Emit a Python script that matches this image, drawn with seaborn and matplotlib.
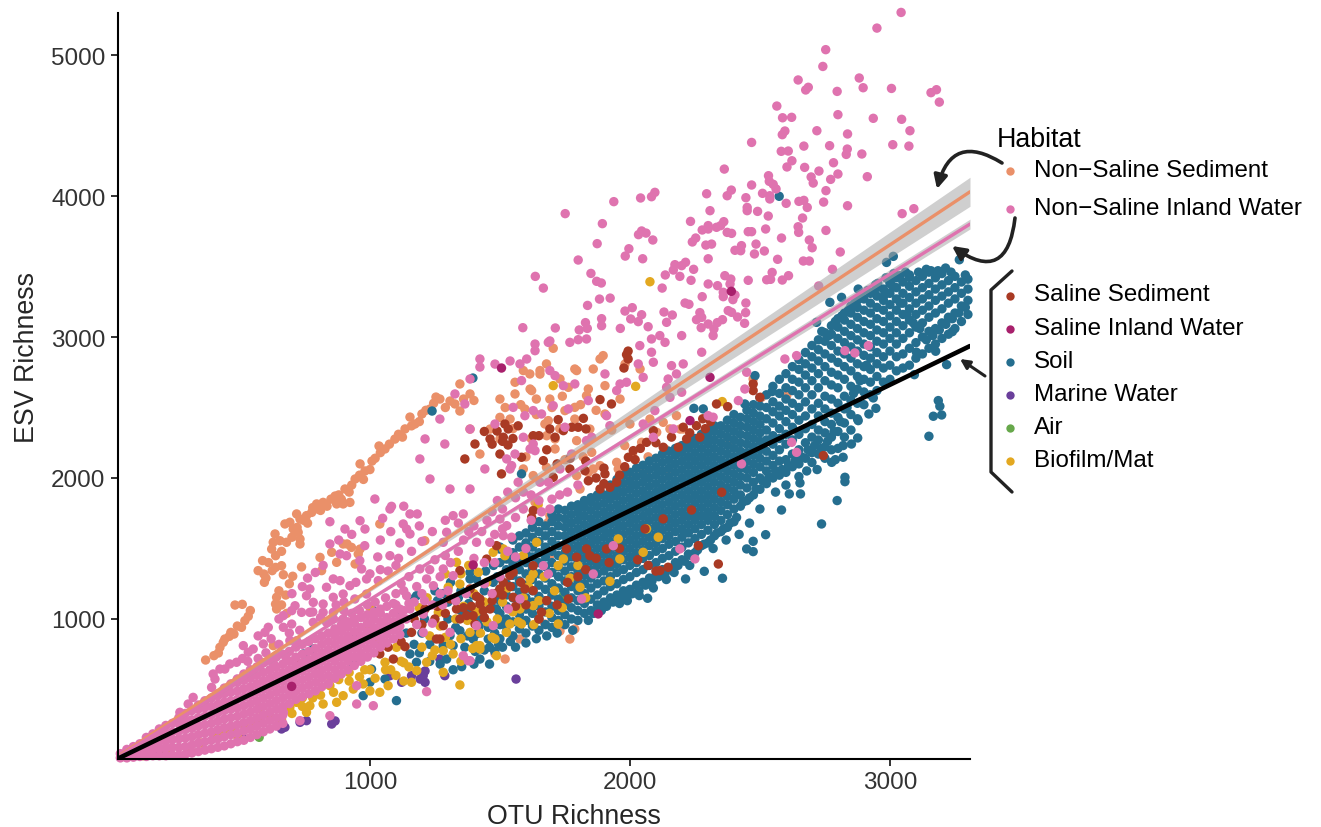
import pandas as pd
import numpy as np
import seaborn as sns
import matplotlib.pyplot as plt
from matplotlib.patches import FancyArrowPatch

sns.set_style('white')
plt.rcParams['font.family'] = ['Liberation Sans', 'DejaVu Sans']

# points (OTU richness, ESV richness)
orange_pts = [(368,709),(417,759),(423,799),(436,835),(442,858),(459,877),(477,893),(506,941),(519,988),(532,1019),
    (481,1099),(509,1104),(628,811),(641,1071),(637,1106),(676,1170),(641,1154),(594,1260),(592,1319),(570,1343),
    (587,1414),(624,1343),(637,1366),(660,1378),(667,1314),(703,1303),(737,1369),(637,1449),(622,1496),(628,1544),
    (654,1555),(679,1544),(635,1603),(731,1567),(731,1532),(724,1615),(705,1638),(673,1674),(692,1686),(731,1709),
    (718,1745),(756,1733),(776,1756),(795,1816),(820,1827),(872,1816),(897,1816),(923,1827),(1038,1674),(808,1437),
    (814,1343),(853,1473),(872,1402),(897,1532),(929,1508),(955,1461),(1211,1555),(800,1780),(866,1872),(904,1922),
    (943,1993),(981,2050),(1008,2120),(1058,2206),(1096,2276),(1135,2348),(1173,2383),(1231,2489),(1269,2560),(1327,2525),
    (1385,2596),(962,2100),(1035,2227),(1154,2432),(1200,2454),(1254,2574),(1308,2546),(1346,2475),(1346,2667),(912,1532),
    (962,1496),(943,1390),(1500,2560),(1558,2596),(1616,2631),(1654,2737),(1692,2560),(1731,2702),(1788,2773),(1885,2844),
    (1981,2808),(2039,2773),(1539,2418),(1596,2489),(1673,2383),(1712,2277),(1788,2418),(1846,2347),(1904,2454),(1962,2560),
    (2000,2383),(2077,2418),(2135,2206),(2193,2347),(1500,2277),(1423,2170),(1385,2347),(1462,2347),(1705,2920),(1897,2868),
    (1679,2809),(1654,2762),(1615,2738),(1590,2762),(1558,2679),(1622,2620),(1795,2762),(1859,2773),(1763,2643),(1840,2631),
    (1904,2655),(1833,2584),(1788,2501),(1750,2478),(1686,2407),(1712,2206),(1795,2265),(1853,2182),(1590,2064),(1628,2017),
    (1679,2076),(1949,2111),(1955,2064),(1885,2088),(1859,2064),(1795,2017),(1808,1922),(1840,2040),(1994,1993),(1987,1958),
    (2045,2253),(2058,2040),(2045,2064),(2128,2395),(2154,2348),(2205,2348),(2179,2442),(2320,2371),(2385,2265),(2474,2702),
    (2506,2572),(2603,2584),(2103,2324),(1692,1733),(1635,1828),(1692,1449),(1686,1686),(1769,858),(1731,915),(1788,929),
    (1673,964),(1520,716),(1481,752),(1577,858),
    (700,1580),(720,1650),(745,1700),(760,1680),(780,1790),(810,1770),(835,1800),(850,1850),(880,1880),(890,1850),
    (920,1900),(930,1950),(960,2020),(975,1990),(1000,2060),(1020,2140),(1040,2180),(1075,2240),(1110,2310),(1125,2290),
    (1160,2370),(1190,2400),(1215,2480),(1245,2530),(1290,2500),(1360,2560),(1400,2550),(660,1480),(610,1400),(600,1290),
    (690,1250),(650,1200),(660,1100),(680,1040),(540,1060),(465,905),(490,950),(400,740),(1500,2430),(1550,2350),
    (1620,2280),(1700,2500),(1740,2580),(1810,2520),(1870,2480),(1930,2340),(1980,2230),(2010,2160),(2070,2150),(2150,2050),
    (1750,2130),(1820,2150),(1680,2300),(1600,2150),(1640,2560),(1580,2520),(1520,2500),(1640,2450),(1730,2350)]

pink_pts = [(3043,5302),(2950,5191),(2753,5038),(2742,4919),(2647,4823),(2686,4771),(2676,4752),(2882,4837),(2897,4768),(2797,4742),
    (3006,4763),(3179,4754),(3158,4733),(3190,4666),(2565,4638),(2587,4555),(2622,4558),(2800,4577),(2936,4551),(3045,4544),
    (2719,4463),(2596,4461),(2586,4435),(2837,4440),(3077,4463),(2468,4380),(2669,4354),(2768,4357),(3011,4364),(3073,4354),
    (2582,4317),(2609,4319),(2836,4333),(2832,4295),(2892,4298),(2623,4250),(2604,4206),(2672,4203),(2783,4236),(2363,4191),
    (2727,4177),(2800,4156),(2913,4137),(2533,4144),(2697,4135),(2536,4104),(2772,4118),(2705,4092),(2468,4078),(2551,4083),
    (2562,4050),(2390,4042),(2754,4038),(2374,4002),(2295,4016),(2510,4019),(2538,4002),(2538,3979),(2096,4026),(2083,3995),
    (2041,3986),(1938,3960),(2446,3988),(2650,3962),(2669,3969),(2601,3948),(2745,3957),(2682,3919),(2837,3931),(3047,3875),
    (3092,3910),(1751,3875),(2308,3896),(2451,3919),(2451,3896),(2491,3891),(2532,3858),(2664,3844),(2233,3820),(1894,3804),
    (2361,3818),(2349,3790),(2333,3778),(2301,3790),(2301,3766),(2278,3759),(2647,3782),(2649,3742),(2522,3766),(2754,3756),
    (2468,3747),(2455,3747),(2374,3742),(2391,3735),(2045,3752),(2062,3737),(2033,3726),(2088,3688),(2583,3702),(2690,3688),
    (2253,3702),(2240,3674),(1874,3662),(2292,3652),(2314,3659),(2485,3659),(2429,3648),(2404,3615),(2426,3612),(1996,3626),
    (2701,3633),(2517,3610),(2479,3589),(2809,3603),(1982,3574),(2049,3555),(2301,3555),(1801,3546),(2568,3551),(2667,3539),
    (2690,3539),(2214,3530),(2173,3513),(2199,3506),(2167,3475),(2245,3480),(2779,3480),(1850,3451),(1636,3430),(2136,3440),
    (2547,3458),(2610,3435),(2365,3435),(2388,3411),(2192,3430),(2526,3406),(2541,3409),(2586,3404),(2455,3402),(2235,3402),
    (1872,3395),(1890,3383),(2301,3376),(2385,3376),(2337,3364),(2726,3362),(1667,3347),(2124,3347),(2359,3317),(2359,3286),
    (2404,3298),(2278,3286),(1924,3276),(1883,3269),(2396,3265),(2446,3241),(1837,3224),(2212,3241),(2227,3232),(2009,3208),
    (1981,3184),(2378,3187),(2391,3175),(2445,3173),(2131,3177),(2163,3156),(2045,3158),(2269,3173),(2276,3139),(2256,3123),
    (2003,3128),(2032,3109),(2414,3142),(1891,3130),(2356,3123),(2336,3102),(1829,3102),(2141,3104),(2441,3097),(2301,3092),
    (1891,3080),(1588,3066),(1713,3064),(1836,3061),(1805,3050),(1963,3061),(2070,3073),(2274,3066),(2323,3057),
    (1686,2962),(1635,2903),(1603,2844),(1577,2809),(1769,2962),(1801,2981),(1833,2986),(2038,2939),(2083,2986),(2115,3010),
    (2135,2962),(2199,3010),(2276,2892),(2320,3010),(2083,2892),(2032,2809),(2090,2821),(2160,2797),(2205,2809),(2179,2738),
    (2147,2702),(2141,2643),(2199,2608),(2154,2572),(2051,2714),(1987,2679),(1962,2667),(1949,2620),(1904,2738),(1788,2667),
    (1692,2762),(1712,2726),(1744,2655),(1596,2442),(1551,2501),(1583,2691),(1628,2478),(1660,2454),(1705,2513),(1763,2490),
    (1840,2549),(1910,2442),(1923,2371),(1750,2360),(1590,2289),(1628,2241),(1635,2194),(1558,2170),(1545,2088),(1526,2135),
    (1833,2265),(1776,2170),(1853,2289),(2090,2289),(2096,2478),(2051,2383),(2167,2348),(2301,2442),(2320,2431),(2449,2750),
    (2442,2631),(2417,2549),(2596,2844),(2641,2868),(2827,2903),(2865,2887),(2917,2939),(2622,2253),(2641,2182),(2429,2100),
    (2192,1497),(2250,1426),(1936,1520),(1859,1319),(1814,1142),(1570,1970),(1686,1970),(1731,2064),(1654,1970),(1692,1780),
    (1526,1662),(1513,1591),(1545,1580),(1667,1378),(1686,1319),(1577,1142),(1532,1071),
    (1423,2844),(1481,2808),(1539,2830),(1635,2950),(1692,2972),(1385,2702),(1423,2787),(1327,2596),(1365,2525),(1269,2418),
    (1212,2277),(1192,2135),(1288,2241),(1385,2347),(1442,2064),(1481,2383),(1539,2064),(1616,2206),(1385,1922),(1308,1922),
    (1231,1993),(1154,1745),(1077,1780),(981,1638),(885,1461),(846,1532),(904,1638),(1019,1851),
    (846,1690),(962,1697),(1049,1714),(1083,1799),(1182,1745),(1128,1674),(1141,1638),(1154,1603),(1115,1539),(1077,1449),
    (910,1449),(968,1355),(961,1414),(987,1284),(1032,1272),(946,1260),(923,1236),(885,1272),(859,1284),(833,1225),
    (769,1213),(756,1165),(782,1118),(820,1106),(859,1154),(897,1177),(942,1142),(987,1177),(712,1094),(699,1059),
    (737,1047),(769,1047),(820,1047),(859,1047),(667,1024),(782,976),(833,976),(897,1000),(699,964),(667,941),
    (609,941),(596,905),(513,811),(532,764),(551,787),(590,823),(487,693),(461,681),(423,645),(397,610),
    (404,574),(442,645),(391,515),(320,444),(301,397),(269,338),(692,846),(718,846),(641,740),(679,716),
    (949,397),(1013,385),(1218,485),(1385,704),(667,338),(731,279),(846,314),(949,527),(1282,1355),(1320,1307),
    (1410,1544),(1359,1745),(1320,1733),(1295,1615),(1282,1544),(1244,1236),(1192,1355),(1218,1284),(1141,1165),(1154,1071),
    (1205,905),(1308,905),(1500,1709),(1461,1544),(1474,953),(1410,953),(1359,740),(1378,704),(1205,1035),
    (1120,1250),(1150,1300),(1180,1230),(1200,1180),(1230,1350),(1250,1420),(1270,1300),(1290,1450),(1310,1400),(1340,1480),
    (1360,1560),(1380,1620),(1400,1660),(1430,1620),(1450,1700),(1470,1760),(1490,1840),(1510,1780),(1530,1900),(1560,1860),
    (1590,1900),(1620,1880),(1650,1840),(1100,1100),(1130,1060),(1170,1120),(1210,1130),(1240,1100),(1270,1180),(1300,1200),
    (1130,1200),(1100,1180),(1060,1150),(1020,1120),(990,1100),(960,1060),(930,1040),(900,1060),(870,1100),(1070,1340),
    (1100,1380),(1040,1350),(1000,1320),(1030,1440),(1110,1430),(1160,1480),(1200,1550),(1240,1620),(1290,1700),(1340,1680),
    (1190,1660),(1130,1800),(1080,1620),(1040,1560),(980,1520),(930,1600),(880,1560),(790,1330),(820,1380),(760,1290),
    (740,1230),(700,1180),(650,1000),(620,860),(570,880),(530,700),(510,720),(570,720),(600,760),(650,820),
    (690,900),(730,920),(780,1050),(810,1010),(860,1000),(900,1120),(630,680),(1280,1100),(1330,1130),(1370,1180),
    (1440,1250),(1470,1180),(1440,1400),(1400,1430),(1480,1600),(1530,1480),(1560,1440),(1600,1500),(1510,1640),(1480,1400),
    (1140,1000),(1180,960),(1240,970),(1150,1110),(1500,1300),(1560,1720),(1590,1780),(1620,1700),(1660,1760),(1700,1850),
    (1730,1880),(1760,1900),(1800,1950)]

# the solid part of the pink cloud, read as (x, [y values]) strips
pink_strips = [(40,[15,45]),(65,[15,45,75]),(90,[20,55,95]),(115,[25,70,115]),(140,[25,70,115,160]),
    (165,[30,80,130,185]),(190,[30,80,130,180,220]),(215,[30,85,135,190,245]),(240,[35,90,145,200,260]),
    (265,[35,90,150,205,260,300]),(290,[40,95,155,215,275,330]),(315,[50,105,165,225,285,350]),
    (340,[60,120,180,240,300,360,390]),(365,[70,130,190,250,310,370,420]),(390,[80,140,200,260,320,380,440]),
    (415,[90,150,215,275,335,395,455,470]),(440,[100,165,230,290,350,410,470,510]),(465,[115,180,240,300,360,420,480,540]),
    (490,[130,190,250,310,370,430,490,550,575]),(515,[140,205,265,325,385,445,505,565,610]),
    (540,[160,220,280,340,400,460,520,580,640]),(565,[180,240,300,360,420,480,540,600,660]),
    (590,[200,260,320,380,440,500,560,620,690]),(615,[220,280,340,400,460,520,580,640,710]),
    (640,[240,300,360,420,480,540,600,660,730]),(665,[260,320,380,440,500,560,620,680,750]),
    (690,[400,460,520,580,640,700,770]),(715,[430,490,550,610,670,730,800]),(740,[450,510,570,630,690,750,820]),
    (765,[470,530,590,650,710,770,840]),(790,[490,550,610,670,730,790,860]),(815,[520,580,640,700,760,820,880]),
    (840,[540,600,660,720,780,840,900]),(865,[580,640,700,760,820,880,930]),(890,[610,670,730,790,850,910,960]),
    (915,[640,700,760,820,880,940,980]),(940,[670,730,790,850,910,970,1000]),(965,[700,760,820,880,940,1010]),
    (990,[730,790,850,910,970,1030]),(1015,[760,820,880,940,1000,1050]),(1040,[800,860,920,980,1040,1070]),
    (1065,[830,890,950,1010,1090]),(1090,[860,920,980,1040,1110]),(1115,[890,950,1010,1070])]

brown_pts = [(1987,2875),(1977,2780),(1885,2556),(1929,2525),(1724,2414),(1821,2423),(1776,2360),(1801,2360),(1831,2348),(1744,2336),
    (1712,2289),(1628,2300),(1692,2348),(1532,2348),(1513,2289),(1583,2147),(1667,2123),(1506,2029),(1705,2005),(1769,2064),
    (1827,2052),(1904,2029),(1949,1970),(1885,1922),(1923,1934),(1994,2147),(2013,2194),(2064,2253),(2090,2336),(2128,2218),
    (2186,2218),(2205,2360),(2256,2371),(2269,2289),(2218,2277),(2333,2525),(2376,2506),(2474,2667),(2474,2620),(2500,2572),
    (2353,1899),(2237,1773),(2263,1520),(2340,1390),(2115,1343),(2147,1367),(1833,1497),(1846,1449),(1910,1497),(1795,1438),
    (1756,1497),(1763,1142),(1628,1378),(1551,1331),(1596,1213),(1628,1201),(1660,1048),(1551,1154),(2128,1710),(2058,1639),
    (2744,2159),(1538,1308),(1513,1260),(1622,1721),(1628,1769),(1462,2277),(1489,2333),(1519,2383),(1404,2241),(1500,2170),
    (1531,2234),(1365,2135),(1993,2900),(1993,2844),(1308,1142),(1385,1213),(1423,1106),(1404,964),(1462,1071),(1500,1213),
    (1346,1000),(1269,858),(1250,1000),(1212,1071),(1449,1425),(1372,1024),(1423,1142),(1436,1059),(1282,953),(1333,1071),
    (1346,1343),(1397,1024),(1160,905),(1135,804),(1090,716),(1038,752),(1256,858),(1487,1520),(731,681),
    (1330,1130),(1360,1080),(1390,1090),(1410,1160),(1440,1010),(1470,1130),(1480,1180),(1510,1170),(1540,1230),(1560,1090),
    (1580,1260),(1600,1100),(1650,1000),(1680,1130),(1720,1100),(1760,1260),(1800,1300),(1830,1350),(1870,1430),(1920,1400),
    (1960,1500),(2030,1420),(2070,1380),(2100,1340),(1290,1040),(1260,1090),(1200,960),(1170,1000),(1120,840),(1070,800),
    (1840,1980),(1870,2000),(1900,1960),(1960,2020),(1980,2080),(2020,2130),(2040,2210),(2100,2250),(2160,2290),(2230,2320),
    (2290,2350),(2310,2400),(2280,2420),(1900,2070),(1830,2120),(1770,2140),(1720,2100),(1680,2200),(1650,2300),(1570,2370),
    (1440,2330),(1470,2240),(1510,2260),(1550,2280)]

magenta_pts = [(1506,2780),(2308,2714),(2231,2407),(1878,1036),(2390,3324),(1397,1383),(699,522)]

purple_pts = [(756,279),(853,255),(673,232),(731,267),(1122,551),(1212,551),(1205,598),(1160,598),(1077,598),(1288,598),
    (660,220),(513,149),(1562,574),(1193,574),(1212,631),(1269,716),(866,277),(192,43)]

air_pts = [(574,161),(1744,1166)]

yellow_pts = [(1000,1083),(994,929),(1026,846),(1102,799),(1058,693),(1038,480),(1070,527),(1160,551),(1282,622),(1320,752),
    (1410,811),(1487,740),(1525,905),(1333,1402),(1417,1331),(1449,1260),(1474,1473),(1301,1225),(1263,1047),(1346,1248),
    (1180,634),(1218,693),(1385,905),(1423,811),(1282,775),(974,539),(936,503),(897,456),(846,527),(872,409),
    (820,397),(769,385),(718,409),(692,373),(756,338),(577,362),(423,208),(449,208),(551,243),(103,43),
    (64,54),(128,31),(314,54),(1519,1449),(1705,2655),(2022,2650),(2355,2542),(1647,1811),(1744,1426),(1724,1379),
    (1808,1225),(1923,1267),(2109,1580),(2064,1639),(1955,1568),(1961,1426),(2051,1473),(1628,1319),(1628,1095),(1583,965),
    (1724,965),(1641,1544),(1513,1497),(1590,1449),(1538,964),(1577,1071),(1481,858),(1423,787),(1346,532),(1616,1284),
    (2077,3392),(740,440),(790,470),(860,480),(920,560),(1000,640),(1080,640),(1130,690),(1240,740),(1350,700),
    (1200,800),(1230,880),(1250,780),(1270,950),(1290,870),(1310,820),(1330,1000),(1350,860),(1360,1090),(1375,990),
    (1395,790),(1410,1050),(1425,900),(1440,1120),(1450,980),(1470,870),(1490,1000),(1510,1120),(1530,1220),(1550,1050),
    (1570,980),(1590,1150),(1610,1230),(1630,960),(1650,1130),(1670,1300),(1690,1040),(1710,1200),(1740,1080),(1770,1290),
    (1800,1380),(1830,1150),(1120,700),(1150,660),(1100,600),(1130,560),(1060,640),(1020,580),(980,640),(1000,490),
    (960,590),(920,620),(880,570),(850,580),(810,460),(780,440),(740,380),(700,330),(660,290),(620,300),
    (580,280),(520,230),(480,200),(490,170),(400,180),(350,120),(300,80),(220,60),(1400,1180),(1380,1380),
    (1350,1320),(1290,1320),(1220,1150),(1190,1080)]

soil_pts = [(3150,2296),(3167,2438),(3199,2447),(3186,2549),(3192,2509),(2737,1674),(2797,1840),(2583,1773),(2522,1598),(2827,2005),
    (2827,1974),(2613,1887),(2656,1887),(2474,1551),(2449,1497),(2474,1478),(2356,1289),(2286,1338),(2214,1284),(2068,1147),
    (2036,1166),(2003,1178),(1583,2029),(2282,2490),(2246,2494),(2547,2613),(2481,2726),(2442,2525),(2936,2568),(2946,2494),
    (2919,2454),(2878,2407),(2876,2284),(2852,2241),(2820,2230),(2820,2147),(2776,2111),(2654,1965),(3094,2733),(3218,2804),
    (3176,2899),(3102,2892),(3240,3038),(2574,3998),(2987,3529),(3013,3572),(2769,3246),(2814,3281),(2878,3340),(2936,3317),
    (2953,3380),(3000,3399),(3158,3470),(3214,3489),(3267,3548),(3038,3435),(3074,3423),(2718,3104),(1239,2475),(1396,2709),
    (782,787),(744,752),(936,681),(1102,421),(1013,1059),(942,905),(1179,1165),(1167,1142),(1006,645),(974,456),
    (1000,551),(1058,574),(1154,752),(1179,693),(1282,811),(1295,716),(1353,662),(1423,716),(1455,858),(1385,1047),
    (1385,1331),(1410,1284),(1487,1071),(1526,1425),(1500,1496),(1385,1284),(1320,811),(1308,882),(1346,917),(1410,894),
    (1455,941),(1513,964),(1500,1142),(1397,858),(1474,1260),
    (1200,900),(1230,820),(1260,1130),(1280,1180),(1300,1000),(1310,1260),(1330,940),(1340,1150),(1350,1200),(1365,800),
    (1375,880),(1380,1110),(1395,1170),(1405,770),(1420,950),(1430,1010),(1440,1200),(1445,1340),(1460,800),(1465,1100),
    (1475,1380),(1480,900),(1490,1300),(1495,820),(1440,780),(1400,1000),(1350,1060),(1300,1120),(1250,1200),(1210,1000),
    (1120,1050),(1140,900),(1170,820),(1190,760),(1230,700),(1270,680),(1320,640),(1360,720),(1400,680),(1460,680),
    (1480,770),(1510,800),(1540,840),(1560,800),(1600,830),(1640,860),(1680,880),(1720,900),(1780,920),(1840,990),
    (1890,1060),(1960,1110),(1990,1130),(2090,1220),(2140,1280),(2170,1330),(2230,1380),(2320,1500),(2370,1560),(2420,1600),
    (2460,1680),(2500,1780),(2560,1900),(2600,1950),(2680,2050),(2720,2060),(2790,2130),
    (2738,3040),(2765,3010),(2790,3110),(2815,3150),(2840,3190),(2865,3240),(2890,3290),(2915,3330),(2945,3370),(2985,3420),
    (3015,3450),(3060,3460),(3110,3460),(3140,3480),(3185,3470),(3235,3460),(3290,3440),(2980,3300),(3010,3360),(3040,3240),
    (3065,3160),(3090,3100),(3115,3060),(3140,2980),(3165,3010),(3190,3050),(3215,3090),(3240,3130),(3265,3170),(3290,3210),
    (2910,2800),(2885,2690),(2860,2600),(2835,2500),(2810,2400),(2785,2330),(2760,2260),(2735,2210),(2710,2230),(2685,2200),
    (2660,2150),(2635,2120),(2610,2090),(2585,2060),(2560,2050),(2535,2010),(2510,1980),(2485,1920),(2460,1860),(2435,1830),
    (2410,1720),(2385,1680),(2360,1640),(2335,1610),(2310,1560),(2285,1530),(2260,1490),(2235,1450),(2210,1410),(2185,1380),
    (2160,1350),(2135,1320),(2110,1300),(2085,1270),(2060,1240),(2035,1200),(2010,1180),(1985,1160),(1960,1150),(1935,1120),
    (1910,1090),(1885,1070),(1860,1040)]

soil_strips = [(1500,[860,960,1040,1130,1210,1290,1400,1510]),(1525,[910,1000,1090,1170,1250,1350,1450]),
    (1550,[880,980,1060,1150,1230,1310,1390,1470,1560]),(1575,[930,1030,1110,1190,1270,1350,1430,1510,1590]),
    (1600,[900,990,1070,1150,1240,1320,1400,1470,1540,1610]),(1625,[950,1040,1120,1200,1280,1360,1440,1510,1580,1650]),
    (1650,[920,1000,1090,1160,1240,1320,1400,1470,1550,1620,1690]),(1675,[960,1050,1130,1210,1290,1370,1440,1510,1590,1660]),
    (1700,[940,1010,1090,1170,1250,1330,1400,1480,1550,1620,1690,1740]),(1725,[990,1060,1140,1220,1300,1370,1450,1520,1590,1660,1720,1780]),
    (1750,[960,1030,1110,1190,1270,1340,1410,1470,1530,1590,1650,1710,1770]),(1775,[1000,1080,1150,1230,1300,1370,1440,1500,1560,1620,1680,1740,1800]),
    (1800,[990,1060,1130,1200,1270,1340,1400,1460,1520,1580,1640,1700,1760,1810]),(1825,[1040,1110,1180,1250,1310,1370,1430,1490,1550,1610,1670,1730,1790,1840]),
    (1850,[1060,1140,1220,1290,1350,1410,1470,1530,1590,1650,1710,1770,1830,1860]),(1875,[1100,1170,1250,1320,1380,1440,1500,1560,1620,1680,1740,1800,1860,1880]),
    (1900,[1120,1200,1270,1340,1400,1460,1520,1580,1640,1700,1760,1820,1880]),(1925,[1150,1230,1300,1370,1430,1490,1550,1610,1670,1730,1790,1850,1900,1950]),
    (1950,[1170,1250,1330,1390,1450,1510,1570,1630,1690,1750,1810,1870,1930,1990]),(1975,[1200,1280,1350,1420,1480,1540,1600,1660,1720,1780,1840,1900,1960,2020]),
    (2000,[1210,1300,1380,1440,1500,1560,1620,1680,1740,1800,1860,1920,1980,2040]),(2025,[1240,1330,1400,1470,1530,1590,1650,1710,1770,1830,1890,1950,2010,2070]),
    (2050,[1260,1350,1430,1490,1550,1610,1670,1730,1790,1850,1910,1970,2030,2090]),(2075,[1290,1380,1450,1520,1580,1640,1700,1760,1820,1880,1940,2000,2060,2120]),
    (2100,[1310,1400,1480,1540,1600,1660,1720,1780,1840,1900,1960,2020,2080,2140]),(2125,[1350,1430,1500,1570,1630,1690,1750,1810,1870,1930,1990,2050,2110,2170]),
    (2150,[1360,1450,1530,1590,1650,1710,1770,1830,1890,1950,2010,2070,2130,2190]),(2175,[1400,1480,1550,1620,1680,1740,1800,1860,1920,1980,2040,2100,2160,2210]),
    (2200,[1420,1510,1580,1640,1700,1760,1820,1880,1940,2000,2060,2120,2180,2230]),(2225,[1460,1540,1610,1670,1730,1790,1850,1910,1970,2030,2090,2150,2210,2250]),
    (2250,[1470,1570,1640,1700,1760,1820,1880,1940,2000,2060,2120,2180,2240,2280]),(2275,[1520,1600,1670,1730,1790,1850,1910,1970,2030,2090,2150,2210,2270,2310]),
    (2300,[1540,1630,1700,1760,1820,1880,1940,2000,2060,2120,2180,2240,2300,2340]),(2325,[1590,1670,1730,1790,1850,1910,1970,2030,2090,2150,2210,2270,2330,2370]),
    (2350,[1620,1700,1770,1830,1890,1950,2010,2070,2130,2190,2250,2310,2370]),(2375,[1650,1740,1810,1870,1930,1990,2050,2110,2170,2230,2290,2350,2410]),
    (2400,[1690,1780,1850,1910,1970,2030,2090,2150,2210,2270,2330,2390,2450]),(2425,[1800,1880,1950,2010,2070,2130,2190,2250,2310,2370,2430]),
    (2450,[1840,1930,2000,2060,2120,2180,2240,2300,2360,2420,2480]),(2475,[1880,1970,2040,2100,2160,2220,2280,2340,2400,2460,2520]),
    (2500,[1920,2000,2080,2140,2200,2260,2320,2380,2440,2510,2570]),(2525,[1960,2050,2120,2190,2270,2340,2420,2500,2590]),
    (2550,[2000,2090,2160,2240,2300,2390,2470,2540,2650]),(2575,[2020,2120,2200,2280,2350,2440,2510,2600,2700]),
    (2600,[2040,2130,2240,2310,2400,2480,2560,2640,2740]),(2625,[2080,2170,2270,2360,2450,2530,2620,2700,2790]),
    (2650,[2010,2100,2200,2310,2410,2500,2590,2680,2770,2840]),(2675,[2140,2250,2350,2440,2540,2640,2730,2810,2890]),
    (2700,[2110,2180,2290,2380,2490,2590,2690,2780,2860,2940]),(2725,[2170,2270,2340,2440,2530,2640,2740,2830,2910,2980]),
    (2750,[2140,2220,2320,2400,2490,2580,2690,2790,2880,2970,3030]),(2775,[2200,2290,2380,2460,2560,2660,2750,2850,2940,3020,3080]),
    (2800,[2210,2330,2430,2530,2640,2730,2820,2900,2990,3070,3130]),(2825,[2290,2390,2490,2580,2700,2790,2880,2960,3040,3120,3170]),
    (2850,[2340,2450,2550,2650,2760,2850,2930,3010,3090,3170,3220]),(2875,[2420,2530,2630,2720,2810,2900,2980,3060,3140,3210,3260]),
    (2900,[2520,2610,2700,2790,2870,2950,3030,3110,3190,3270]),(2925,[2590,2680,2770,2850,2930,3010,3090,3170,3240,3310]),
    (2950,[2620,2720,2810,2890,2970,3050,3130,3210,3290,3350]),(2975,[2680,2780,2860,2950,3030,3110,3190,3260,3340]),
    (3000,[2700,2800,2900,2990,3070,3150,3230,3310,3380]),(3025,[2760,2860,2950,3030,3110,3190,3270,3350,3420]),
    (3050,[2780,2880,2990,3080,3160,3240,3310,3390]),(3075,[2800,2920,3030,3120,3200,3280,3360,3440]),
    (3100,[2850,2960,3070,3160,3240,3320,3400]),(3125,[2880,3000,3100,3190,3270,3350,3430]),
    (3150,[2920,3040,3140,3220,3300,3380,3460]),(3175,[2950,3060,3170,3260,3340,3420]),
    (3200,[2990,3100,3200,3290,3370,3450]),(3225,[3020,3140,3240,3320,3400]),
    (3250,[3060,3170,3270,3350,3430]),(3275,[3110,3220,3310,3390]),(3300,[3160,3260,3340,3410])]

# fitted lines and their bands
line_x = [31, 3308]
orange_line = [25, 4030]
pink_line = [20, 3801]
black_line = [10, 2936]
band_x = [31, 1000, 1500, 2000, 2500, 3308]
orange_lo = [15, 1194, 1785, 2381, 2972, 3927]
orange_hi = [35, 1224, 1855, 2481, 3112, 4133]
pink_lo = [14, 1130, 1700, 2270, 2839, 3766]
pink_hi = [26, 1146, 1730, 2314, 2899, 3836]

habitats = ['Non\u2212Saline Sediment', 'Non\u2212Saline Inland Water', 'Saline Sediment', 'Saline Inland Water',
            'Soil', 'Marine Water', 'Air', 'Biofilm/Mat']
colors = ['#EA9069', '#DF73AF', '#A93A24', '#A8206C', '#256E8F', '#6A3F9B', '#67A84B', '#E3A820']
pal = dict(zip(habitats, colors))


def strips_to_pts(strips):
    return [(x, y) for x, ys in strips for y in ys]


# row order is the drawing order
groups = [(habitats[0], orange_pts), (habitats[5], purple_pts), (habitats[6], air_pts),
          (habitats[4], soil_pts + strips_to_pts(soil_strips)), (habitats[7], yellow_pts), (habitats[2], brown_pts),
          (habitats[1], strips_to_pts(pink_strips) + pink_pts), (habitats[3], magenta_pts)]
frames = [pd.DataFrame(pts, columns=['otu', 'esv']).assign(habitat=name) for name, pts in groups]
df = pd.concat(frames, ignore_index=True)

fig = plt.figure(figsize=(13.21, 8.28), dpi=100)
ax = fig.add_axes([118/1321, 68/828, 852/1321, 746/828])
sns.scatterplot(data=df, x='otu', y='esv', hue='habitat', palette=pal, s=46, linewidth=0, legend=False, ax=ax, clip_on=False)
ax.fill_between(band_x, orange_lo, orange_hi, color='#a8a8a8', alpha=0.55, linewidth=0)
ax.fill_between(band_x, pink_lo, pink_hi, color='#a8a8a8', alpha=0.55, linewidth=0)
sns.lineplot(x=line_x, y=orange_line, color=colors[0], linewidth=2.4, ax=ax)
sns.lineplot(x=line_x, y=pink_line, color=colors[1], linewidth=2.4, ax=ax)
sns.lineplot(x=line_x, y=black_line, color='black', linewidth=3.3, ax=ax)

ax.set_xlim(31, 3308)
ax.set_ylim(7, 5298)
ax.set_xticks([1000, 2000, 3000])
ax.set_yticks([1000, 2000, 3000, 4000, 5000])
ax.tick_params(axis='both', labelsize=17.5, length=5, width=1.3, color='#222222', labelcolor='#333333', bottom=True, left=True, pad=4)
ax.set_xlabel('OTU Richness', fontsize=19.3, labelpad=7, x=0.535)
ax.set_ylabel('ESV Richness', fontsize=19.3, labelpad=8, y=0.54)
sns.despine(ax=ax)
for side in ['left', 'bottom']:
    ax.spines[side].set_linewidth(1.5)
    ax.spines[side].set_color('black')

# legend and arrows, on an overlay measured in figure pixels
over = fig.add_axes([0, 0, 1, 1], facecolor='none')
over.set_xlim(0, 1321)
over.set_ylim(828, 0)
over.axis('off')
over.text(997, 140, 'Habitat', fontsize=19.3, va='center', ha='left', color='black')
marker_y = [172, 210, 297, 330, 363, 396, 429, 462]
label_y = [171, 209, 295, 329, 362, 395, 428, 461]
for name, c, my, ly in zip(habitats, colors, marker_y, label_y):
    over.scatter([1010], [my], s=36, color=c, linewidth=0)
    over.text(1034, ly, name, fontsize=17.4, va='center', ha='left', color='black')

over.plot([1012, 991, 991, 1012], [272, 291, 473, 493], color='#222222', lw=2.4, solid_capstyle='round')
dark = '#222222'
over.add_patch(FancyArrowPatch((1002, 164), (937, 190), connectionstyle='arc3,rad=0.68', arrowstyle='-|>',
                               mutation_scale=20, lw=2.6, color=dark, shrinkA=0, shrinkB=0))
over.add_patch(FancyArrowPatch((1015, 219), (952, 247), connectionstyle='arc3,rad=-0.85', arrowstyle='-|>',
                               mutation_scale=20, lw=2.6, color=dark, shrinkA=0, shrinkB=0))
over.add_patch(FancyArrowPatch((985, 377), (960, 360), arrowstyle='-|>', mutation_scale=14, lw=2.2, color=dark,
                               shrinkA=0, shrinkB=0))

fig.savefig('out.png', dpi=100)
